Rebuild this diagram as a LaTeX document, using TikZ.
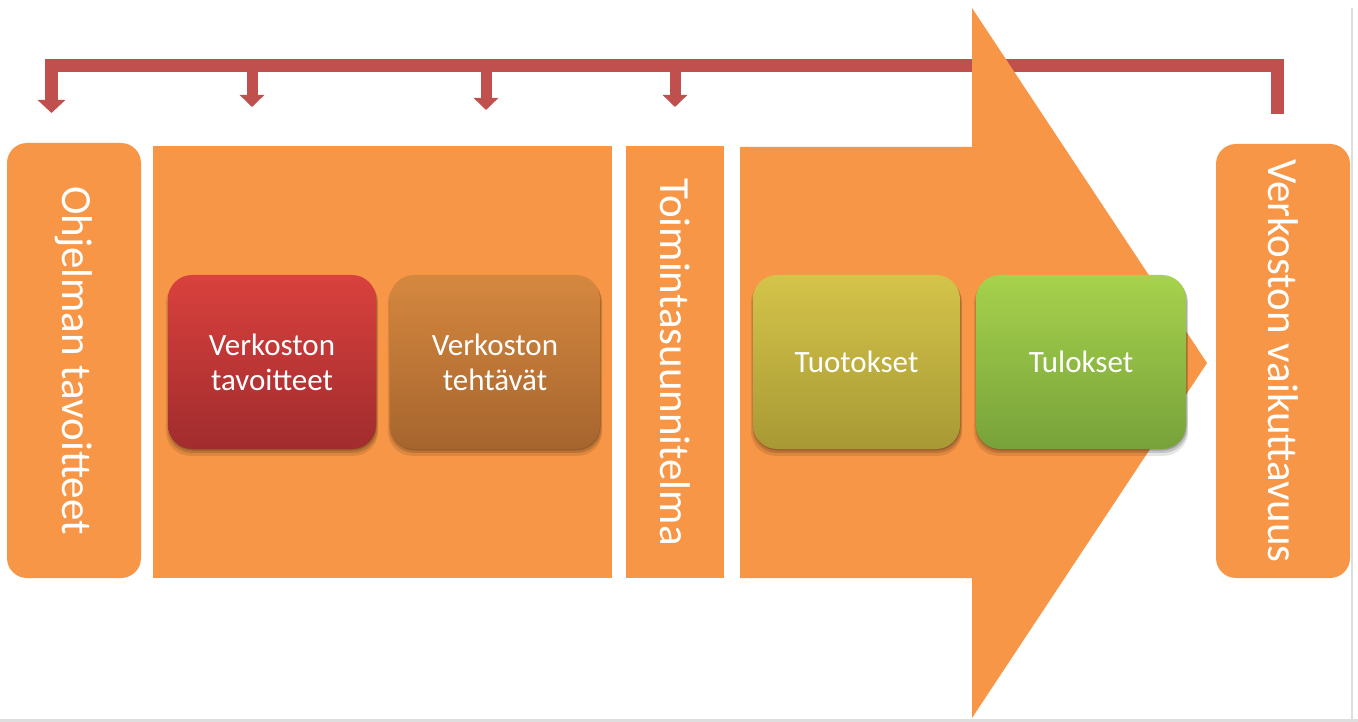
\documentclass[tikz,border=0pt]{standalone}
\usepackage{fontspec}
\setmainfont{Carlito}
\usetikzlibrary{arrows.meta,shadows}
\definecolor{orng}{HTML}{F79646}
\definecolor{brk}{HTML}{C0504D}
\definecolor{redT}{HTML}{D9413D}
\definecolor{redB}{HTML}{A12C2E}
\definecolor{brnT}{HTML}{D5883F}
\definecolor{brnB}{HTML}{A6652E}
\definecolor{oliT}{HTML}{D4C44A}
\definecolor{oliB}{HTML}{A89935}
\definecolor{grnT}{HTML}{A7D24D}
\definecolor{grnB}{HTML}{77A23A}
\definecolor{frame}{HTML}{DEDEDE}
\begin{document}
\begin{tikzpicture}[x=1pt,y=-1pt,
  panel/.style={fill=orng, draw=none, inner sep=0pt},
  vlabel/.style={rotate=-90, text=white, inner sep=0pt, font=\fontsize{43}{48}\selectfont},
  inner/.style={rounded corners=24pt, draw=none, minimum height=174pt, text=white, align=center,
    font=\fontsize{31}{35}\selectfont,
    general shadow={shadow xshift=0pt, shadow yshift=-5pt, shadow scale=1.02, opacity=0.10, fill=black},
    general shadow={shadow xshift=0.5pt, shadow yshift=-3pt, shadow scale=1.01, opacity=0.14, fill=black},
    general shadow={shadow xshift=0.5pt, shadow yshift=-1.5pt, opacity=0.18, fill=black}},
  bar/.style={draw=brk, line width=13pt},
  twig/.style={draw=brk, line width=11pt, -{Triangle[width=24pt,length=12pt]}}
]
\useasboundingbox[fill=white] (0,0) rectangle (1358,722);
% frame lines
\draw[frame, line width=3pt] (0,720.5) -- (1358,720.5);
\draw[frame, line width=2pt] (1352,8) -- (1352,719);
% bracket
\coordinate (top) at (0,65.5);
\coordinate (bL) at (51.5,113);
\coordinate (bR) at (1277,114);
\coordinate (a2) at (252,107);
\coordinate (a3) at (486,110);
\coordinate (a4) at (675,107);
\draw[bar, -{Triangle[width=27pt,length=13pt]}] (bR) -- (bR |- top) -| (bL);
\draw[twig] (a2 |- top) -- (a2);
\draw[twig] (a3 |- top) -- (a3);
\draw[twig] (a4 |- top) -- (a4);
% big arrow
\fill[orng] (740,147) -- (972,147) -- (972,8) -- (1207,363) -- (972,718) -- (972,578) -- (740,578) -- cycle;
% panels
\node[panel, rounded corners=20pt, minimum width=134pt, minimum height=435pt] (p1) at (74,360.5) {};
\node[panel, minimum width=459pt, minimum height=432pt] (p2) at (382.5,362) {};
\node[panel, minimum width=98pt, minimum height=432pt] (p3) at (675,362) {};
\node[panel, rounded corners=20pt, minimum width=134pt, minimum height=434pt] (p5) at (1283,361) {};
\node[vlabel] (l1) at (p1.center) {Ohjelman tavoitteet};
\node[vlabel] (l3) at (p3.center) {Toimintasuunnitelma};
\node[vlabel] (l5) at (p5.center) {Verkoston vaikuttavuus};
% inner boxes
\node[inner, minimum width=208pt, top color=redT, bottom color=redB] (i1) at (272,362) {Verkoston\\tavoitteet};
\node[inner, minimum width=210pt, top color=brnT, bottom color=brnB] (i2) at (495,362) {Verkoston\\tehtävät};
\node[inner, minimum width=207pt, top color=oliT, bottom color=oliB] (i3) at (856.5,362) {Tuotokset};
\node[inner, minimum width=210pt, top color=grnT, bottom color=grnB] (i4) at (1081,362) {Tulokset};
\end{tikzpicture}
\end{document}
